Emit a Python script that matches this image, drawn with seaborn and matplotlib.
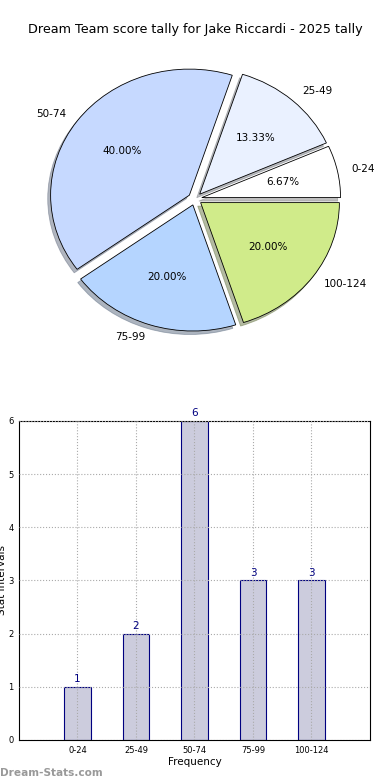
import numpy as np
import pandas as pd
import seaborn as sns
import matplotlib.pyplot as plt

intervals = ["0-24", "25-49", "50-74", "75-99", "100-124"]
counts = [1, 2, 6, 3, 3]
pie_colors = ["#ffffff", "#eaf1ff", "#c6d9ff", "#b5d5ff", "#d0eb8a"]

sns.set_style("white")
plt.rcParams['font.family'] = ['DejaVu Sans']
plt.rcParams['text.color'] = 'black'
plt.rcParams['axes.labelcolor'] = 'black'
plt.rcParams['xtick.color'] = 'black'
plt.rcParams['ytick.color'] = 'black'

fig = plt.figure(figsize=(3.9, 7.8), dpi=100)
fig.suptitle("Dream Team score tally for Jake Riccardi - 2025 tally", fontsize=9.2, y=0.97)

# pie (slightly stretched horizontally like the original)
ax1 = fig.add_axes([0.073, 0.551, 0.854, 0.388])
ax1.pie(counts, labels=intervals, colors=pie_colors, autopct="%.2f%%",
        explode=[0.05] * len(counts),
        shadow={"ox": -0.015, "oy": -0.02, "shade": 0.5}, startangle=0,
        wedgeprops={"edgecolor": "black", "linewidth": 0.6},
        textprops={"fontsize": 7.5})
ax1.set_xlim(-1.2, 1.2)
ax1.set_ylim(-1.2, 1.2)
ax1.set_aspect("auto")
ax1.axis("off")

# bars
ax2 = fig.add_axes([0.0487, 0.0513, 0.9, 0.409])
df = pd.DataFrame({"interval": intervals, "count": counts})
sns.barplot(data=df, x="interval", y="count", color="#ccccdd", edgecolor="navy",
            linewidth=0.8, width=0.45, saturation=1, ax=ax2)
for i, c in enumerate(counts):
    ax2.text(i, c + 0.05, str(c), ha="center", va="bottom", color="navy", fontsize=7.5)
ax2.set_xlim(-1, 5)
ax2.set_ylim(0, 6)
ax2.set_yticks(range(0, 7))
ax2.grid(True, linestyle=":", color="#aaaaaa", linewidth=0.8)
ax2.set_axisbelow(False)
for s in ax2.spines.values():
    s.set_color("black")
    s.set_linewidth(0.8)
ax2.tick_params(labelsize=6, length=2, pad=2)
ax2.set_xlabel("Frequency", fontsize=7.5, labelpad=2)
ax2.set_ylabel("Stat Intervals", fontsize=7.5, labelpad=1)

fig.text(0.0, 0.005, "Dream-Stats.com", color="#999999", fontsize=7.6, fontweight="bold")

fig.savefig("out.png", dpi=100)
